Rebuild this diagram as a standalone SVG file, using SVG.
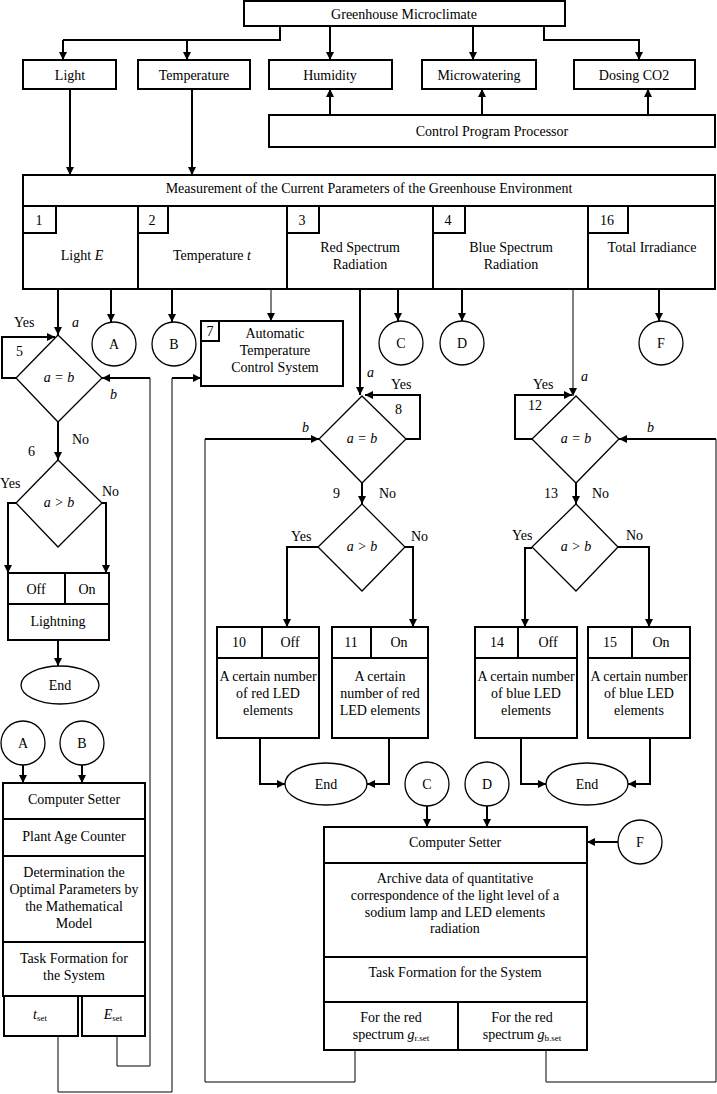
<svg xmlns="http://www.w3.org/2000/svg" width="717" height="1094" viewBox="0 0 717 1094">
<defs>
<marker id="ah" viewBox="0 0 10 10" refX="10" refY="5" markerWidth="8" markerHeight="8" markerUnits="userSpaceOnUse" orient="auto">
<path d="M0,0 L10,5 L0,10 z" fill="#000"/>
</marker>
</defs>
<style>
.b{fill:#fff;stroke:#000;stroke-width:2}
.d{fill:#fff;stroke:#000;stroke-width:1.3}
.t{font-family:"Liberation Serif","Times New Roman",serif;font-size:14px;fill:#000;text-anchor:middle}
.l{font-family:"Liberation Serif","Times New Roman",serif;font-size:14px;fill:#000}
.i{font-style:italic}
.s{font-size:9px}
.c{fill:none;stroke:#000;stroke-width:2}
.ca{fill:none;stroke:#000;stroke-width:2;marker-end:url(#ah)}
.tc{fill:none;stroke:#000;stroke-width:1}
.tca{fill:none;stroke:#000;stroke-width:1;marker-end:url(#ah)}
</style>
<rect width="717" height="1094" fill="#fff"/>

<g id="connectors">
<path class="c" d="M280,26 V40 H63"/><path class="ca" d="M63,40 V60"/>
<path class="ca" d="M187,40 V60"/>
<path class="ca" d="M330,26 V60"/>
<path class="ca" d="M473,26 V60"/>
<path class="ca" d="M544,26 V40 H639 V60"/>
<path class="ca" d="M330,115 V89"/>
<path class="ca" d="M482,115 V89"/>
<path class="ca" d="M648,115 V89"/>
<path class="ca" d="M70,89 V175"/>
<path class="ca" d="M192,89 V175"/>

<path class="ca" d="M58,289 V335"/>
<path class="ca" d="M111,289 V322"/>
<path class="ca" d="M172,289 V322"/>
<path class="tca" d="M271,289 V321"/>
<path class="ca" d="M360,289 V395"/>
<path class="ca" d="M398,289 V321"/>
<path class="ca" d="M462,289 V321"/>
<path class="tca" d="M573,289 V396"/>
<path class="ca" d="M659,289 V321"/>

<path class="ca" d="M16,378 H2 V337 H55"/>
<path class="ca" d="M150,378 H102"/>
<path class="tc" d="M150,378 V1066 H117 V1036"/>
<path class="ca" d="M58,422 V460"/>
<path class="ca" d="M16,503 H8 V573"/>
<path class="ca" d="M102,503 H106 V573"/>
<path class="ca" d="M58,640 V666"/>
<path class="ca" d="M172,378 H201"/>
<path class="tc" d="M172,378 V1092 H58 V1036"/>

<path class="ca" d="M406,439 H420 V395 H365"/>
<path class="ca" d="M205,439 H319"/>
<path class="tc" d="M205,439 V1082 H355 V1050"/>
<path class="ca" d="M362,483 V504"/>
<path class="ca" d="M318,547 H287 V627"/>
<path class="ca" d="M405,547 H413 V627"/>

<path class="ca" d="M532,439 H515 V395 H572"/>
<path class="ca" d="M716,439 H619"/>
<path class="tc" d="M716,439 V1082 H546 V1050"/>
<path class="ca" d="M576,483 V504"/>
<path class="ca" d="M532,548 H525 V627"/>
<path class="ca" d="M618,547 H649 V627"/>

<path class="ca" d="M260,738 V784 H285"/>
<path class="ca" d="M389,738 V784 H367"/>
<path class="ca" d="M521,738 V784 H546"/>
<path class="ca" d="M650,738 V784 H628"/>
<path class="ca" d="M427,806 V827"/>
<path class="ca" d="M487,806 V827"/>
<path class="ca" d="M618,842 H587"/>
<path class="ca" d="M23,765 V783"/>
<path class="ca" d="M82,765 V783"/>
</g>

<g id="microclimate"><rect class="b" x="244" y="1" width="321" height="25"/><text class="t" x="404" y="18.5">Greenhouse Microclimate</text></g>
<g id="light"><rect class="b" x="23" y="60" width="93" height="29"/><text class="t" x="70" y="79.5">Light</text></g>
<g id="temperature"><rect class="b" x="138" y="60" width="112" height="29"/><text class="t" x="194" y="79.5">Temperature</text></g>
<g id="humidity"><rect class="b" x="269" y="60" width="123" height="29"/><text class="t" x="330" y="79.5">Humidity</text></g>
<g id="microwatering"><rect class="b" x="422" y="60" width="114" height="29"/><text class="t" x="479" y="79.5">Microwatering</text></g>
<g id="dosing"><rect class="b" x="574" y="60" width="121" height="29"/><text class="t" x="634" y="79.5">Dosing CO2</text></g>
<g id="processor"><rect class="b" x="269" y="115" width="446" height="32"/><text class="t" x="492" y="135.5">Control Program Processor</text></g>

<g id="measurement">
<rect class="b" x="23" y="175" width="692" height="31"/>
<text class="t" x="369" y="192.5">Measurement of the Current Parameters of the Greenhouse Environment</text>
</g>
<g id="m1"><rect class="b" x="23" y="206" width="115" height="83"/><rect class="b" x="23" y="206" width="33" height="27"/><text class="t" x="39" y="224.5">1</text><text class="t" x="82" y="259.5">Light <tspan class="i">E</tspan></text></g>
<g id="m2"><rect class="b" x="138" y="206" width="149" height="83"/><rect class="b" x="138" y="206" width="30" height="27"/><text class="t" x="152" y="224.5">2</text><text class="t" x="212" y="259.5">Temperature <tspan class="i">t</tspan></text></g>
<g id="m3"><rect class="b" x="287" y="206" width="146" height="83"/><rect class="b" x="287" y="206" width="32" height="27"/><text class="t" x="302" y="224.5">3</text><text class="t" x="360" y="251.5">Red Spectrum</text><text class="t" x="360" y="268.5">Radiation</text></g>
<g id="m4"><rect class="b" x="433" y="206" width="155" height="83"/><rect class="b" x="433" y="206" width="32" height="27"/><text class="t" x="448" y="224.5">4</text><text class="t" x="511" y="251.5">Blue Spectrum</text><text class="t" x="511" y="268.5">Radiation</text></g>
<g id="m16"><rect class="b" x="588" y="206" width="127" height="83"/><rect class="b" x="588" y="206" width="40" height="27"/><text class="t" x="607" y="224.5">16</text><text class="t" x="652" y="251.5">Total Irradiance</text></g>

<g id="circleA1"><circle class="d" cx="114" cy="344" r="22"/><text class="t" x="114" y="349">A</text></g>
<g id="circleB1"><circle class="d" cx="174" cy="344" r="22"/><text class="t" x="174" y="349">B</text></g>
<g id="circleC1"><circle class="d" cx="401" cy="343" r="22"/><text class="t" x="401" y="348">C</text></g>
<g id="circleD1"><circle class="d" cx="462" cy="343" r="22"/><text class="t" x="462" y="348">D</text></g>
<g id="circleF1"><circle class="d" cx="661" cy="343" r="22"/><text class="t" x="661" y="348">F</text></g>

<g id="box7"><rect class="b" x="201" y="321" width="142" height="65"/><rect class="b" x="201" y="321" width="18" height="20"/><text class="t" x="210" y="336">7</text>
<text class="t" x="275" y="338">Automatic</text><text class="t" x="275" y="355">Temperature</text><text class="t" x="275" y="372">Control System</text></g>

<g id="d5"><polygon class="d" points="58,335 102,378 58,422 16,378"/><text class="t i" x="59" y="382">a = b</text>
<text class="l" x="14" y="327">Yes</text><text class="l i" x="72" y="327">a</text><text class="l" x="16" y="356">5</text><text class="l i" x="110" y="399">b</text><text class="l" x="72" y="444">No</text><text class="l" x="28" y="456">6</text></g>
<g id="d6"><polygon class="d" points="58,460 102,503 58,547 16,503"/><text class="t i" x="59" y="507">a &gt; b</text>
<text class="l" x="0" y="488">Yes</text><text class="l" x="102" y="496">No</text></g>
<g id="lightning"><rect class="b" x="8" y="573" width="101" height="31"/><line class="c" x1="65" y1="573" x2="65" y2="604"/><rect class="b" x="8" y="604" width="101" height="36"/>
<text class="t" x="36" y="594">Off</text><text class="t" x="87" y="594">On</text><text class="t" x="58" y="626">Lightning</text></g>
<g id="end1"><ellipse class="d" cx="60" cy="685" rx="39" ry="19"/><text class="t" x="60" y="690">End</text></g>

<g id="d8"><polygon class="d" points="362,396 406,439 362,483 319,439"/><text class="t i" x="362" y="443">a = b</text>
<text class="l i" x="367" y="377">a</text><text class="l" x="391" y="389">Yes</text><text class="l" x="395" y="414">8</text><text class="l i" x="302" y="432">b</text><text class="l" x="333" y="498">9</text><text class="l" x="379" y="498">No</text></g>
<g id="d9"><polygon class="d" points="362,504 405,547 362,591 318,547"/><text class="t i" x="362" y="551">a &gt; b</text>
<text class="l" x="291" y="541">Yes</text><text class="l" x="411" y="541">No</text></g>
<g id="d12"><polygon class="d" points="576,396 619,439 576,483 532,439"/><text class="t i" x="576" y="443">a = b</text>
<text class="l i" x="581" y="381">a</text><text class="l" x="533" y="389">Yes</text><text class="l" x="528" y="410">12</text><text class="l i" x="647" y="432">b</text><text class="l" x="544" y="498">13</text><text class="l" x="592" y="498">No</text></g>
<g id="d13"><polygon class="d" points="576,504 618,547 576,591 532,547"/><text class="t i" x="576" y="551">a &gt; b</text>
<text class="l" x="512" y="540">Yes</text><text class="l" x="626" y="540">No</text></g>

<g id="box10"><rect class="b" x="217" y="627" width="102" height="111"/><line class="c" x1="217" y1="658" x2="319" y2="658"/><line class="c" x1="262" y1="627" x2="262" y2="658"/>
<text class="t" x="239" y="647">10</text><text class="t" x="290" y="647">Off</text><text class="t" x="268" y="681">A certain number</text><text class="t" x="268" y="698">of red LED</text><text class="t" x="268" y="715">elements</text></g>
<g id="box11"><rect class="b" x="332" y="627" width="96" height="111"/><line class="c" x1="332" y1="658" x2="428" y2="658"/><line class="c" x1="371" y1="627" x2="371" y2="658"/>
<text class="t" x="351" y="647">11</text><text class="t" x="399" y="647">On</text><text class="t" x="380" y="681">A certain</text><text class="t" x="380" y="698">number of red</text><text class="t" x="380" y="715">LED elements</text></g>
<g id="box14"><rect class="b" x="475" y="627" width="102" height="111"/><line class="c" x1="475" y1="658" x2="577" y2="658"/><line class="c" x1="518" y1="627" x2="518" y2="658"/>
<text class="t" x="497" y="647">14</text><text class="t" x="548" y="647">Off</text><text class="t" x="526" y="681">A certain number</text><text class="t" x="526" y="698">of blue LED</text><text class="t" x="526" y="715">elements</text></g>
<g id="box15"><rect class="b" x="588" y="627" width="102" height="111"/><line class="c" x1="588" y1="658" x2="690" y2="658"/><line class="c" x1="632" y1="627" x2="632" y2="658"/>
<text class="t" x="610" y="647">15</text><text class="t" x="661" y="647">On</text><text class="t" x="639" y="681">A certain number</text><text class="t" x="639" y="698">of blue LED</text><text class="t" x="639" y="715">elements</text></g>

<g id="end2"><ellipse class="d" cx="326" cy="784" rx="41" ry="21"/><text class="t" x="326" y="789">End</text></g>
<g id="end3"><ellipse class="d" cx="587" cy="784" rx="41" ry="21"/><text class="t" x="587" y="789">End</text></g>
<g id="circleC2"><circle class="d" cx="427" cy="784" r="22"/><text class="t" x="427" y="789">C</text></g>
<g id="circleD2"><circle class="d" cx="487" cy="784" r="22"/><text class="t" x="487" y="789">D</text></g>
<g id="circleF2"><circle class="d" cx="640" cy="842" r="22"/><text class="t" x="640" y="847">F</text></g>

<g id="setter2">
<rect class="b" x="324" y="827" width="263" height="223"/>
<line class="c" x1="324" y1="863" x2="587" y2="863"/><line class="c" x1="324" y1="957" x2="587" y2="957"/><line class="c" x1="324" y1="1002" x2="587" y2="1002"/><line class="c" x1="458" y1="1002" x2="458" y2="1050"/>
<text class="t" x="455" y="847">Computer Setter</text>
<text class="t" x="455" y="883">Archive data of quantitative</text><text class="t" x="455" y="900">correspondence of the light level of a</text><text class="t" x="455" y="917">sodium lamp and LED elements</text><text class="t" x="455" y="933">radiation</text>
<text class="t" x="455" y="977">Task Formation for the System</text>
<text class="t" x="391" y="1022">For the red</text><text class="t" x="391" y="1039">spectrum <tspan class="i">g</tspan><tspan class="s" dy="2">r.set</tspan></text>
<text class="t" x="522" y="1022">For the red</text><text class="t" x="522" y="1039">spectrum <tspan class="i">g</tspan><tspan class="s" dy="2">b.set</tspan></text>
</g>

<g id="circleA2"><circle class="d" cx="23" cy="743" r="22"/><text class="t" x="23" y="748">A</text></g>
<g id="circleB2"><circle class="d" cx="82" cy="743" r="22"/><text class="t" x="82" y="748">B</text></g>
<g id="setter1">
<rect class="b" x="3" y="783" width="142" height="213"/>
<line class="c" x1="3" y1="819" x2="145" y2="819"/><line class="c" x1="3" y1="856" x2="145" y2="856"/><line class="c" x1="3" y1="942" x2="145" y2="942"/>
<text class="t" x="74" y="804">Computer Setter</text>
<text class="t" x="74" y="841">Plant Age Counter</text>
<text class="t" x="74" y="877">Determination the</text><text class="t" x="74" y="894">Optimal Parameters by</text><text class="t" x="74" y="911">the Mathematical</text><text class="t" x="74" y="928">Model</text>
<text class="t" x="74" y="963">Task Formation for</text><text class="t" x="74" y="980">the System</text>
</g>
<g id="tset"><rect class="b" x="4" y="996" width="74" height="40"/><text class="t" x="40" y="1019"><tspan class="i">t</tspan><tspan class="s" dy="2">set</tspan></text></g>
<g id="eset"><rect class="b" x="82" y="996" width="63" height="40"/><text class="t" x="113" y="1019"><tspan class="i">E</tspan><tspan class="s" dy="2">set</tspan></text></g>
</svg>
